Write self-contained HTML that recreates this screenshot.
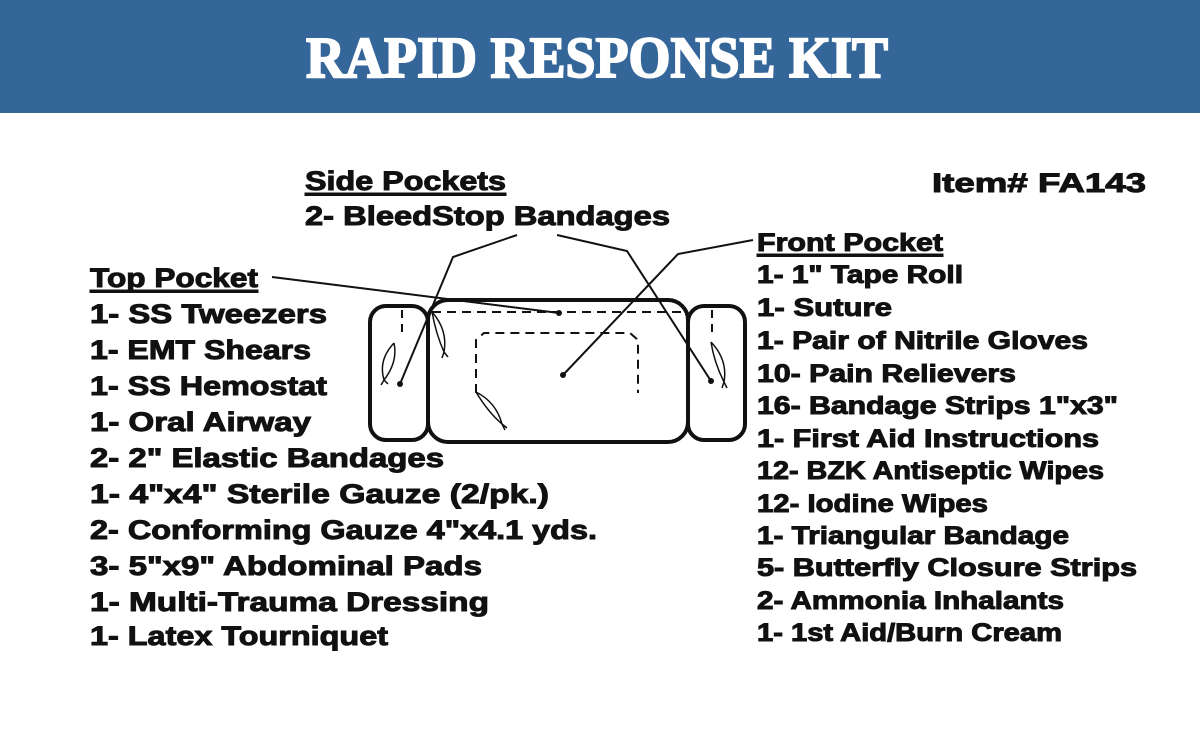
<!DOCTYPE html>
<html><head><meta charset="utf-8"><style>
html,body{margin:0;padding:0;background:#fff;}
svg{display:block}
.t{font-family:"Liberation Sans",sans-serif;font-weight:bold;fill:#111;stroke:#111;stroke-width:1;}
</style></head><body>
<svg width="1200" height="751" viewBox="0 0 1200 751" xmlns="http://www.w3.org/2000/svg">
<rect x="0" y="0" width="1200" height="113" fill="#346699"/>
<text x="306" y="77" font-family="Liberation Serif,serif" font-weight="bold" font-size="58" fill="#fff" stroke="#fff" stroke-width="2" textLength="582" lengthAdjust="spacingAndGlyphs">RAPID RESPONSE KIT</text>

<g class="t" font-size="27">
<text x="305" y="190" textLength="201" lengthAdjust="spacingAndGlyphs">Side Pockets</text>
<rect x="305" y="193" width="201" height="2.5" fill="#111"/>
<text x="305" y="225" textLength="365" lengthAdjust="spacingAndGlyphs">2- BleedStop Bandages</text>
<text x="932" y="192" textLength="214" lengthAdjust="spacingAndGlyphs">Item# FA143</text>

<text x="90" y="287" textLength="168" lengthAdjust="spacingAndGlyphs">Top Pocket</text>
<rect x="90" y="290" width="168" height="2.5" fill="#111"/>
<text x="90" y="323" textLength="237" lengthAdjust="spacingAndGlyphs">1- SS Tweezers</text>
<text x="90" y="359" textLength="221" lengthAdjust="spacingAndGlyphs">1- EMT Shears</text>
<text x="90" y="395" textLength="237" lengthAdjust="spacingAndGlyphs">1- SS Hemostat</text>
<text x="90" y="431" textLength="221" lengthAdjust="spacingAndGlyphs">1- Oral Airway</text>
<text x="90" y="467" textLength="354" lengthAdjust="spacingAndGlyphs">2- 2" Elastic Bandages</text>
<text x="90" y="503" textLength="459" lengthAdjust="spacingAndGlyphs">1- 4"x4" Sterile Gauze (2/pk.)</text>
<text x="90" y="539" textLength="507" lengthAdjust="spacingAndGlyphs">2- Conforming Gauze 4"x4.1 yds.</text>
<text x="90" y="575" textLength="392" lengthAdjust="spacingAndGlyphs">3- 5"x9" Abdominal Pads</text>
<text x="90" y="611" textLength="399" lengthAdjust="spacingAndGlyphs">1- Multi-Trauma Dressing</text>
<text x="90" y="645" textLength="298" lengthAdjust="spacingAndGlyphs">1- Latex Tourniquet</text>
</g>

<g class="t" font-size="25">
<text x="757" y="251" textLength="186" lengthAdjust="spacingAndGlyphs">Front Pocket</text>
<rect x="757" y="254" width="186" height="2.5" fill="#111"/>
<text x="757" y="283" textLength="206" lengthAdjust="spacingAndGlyphs">1- 1" Tape Roll</text>
<text x="757" y="316" textLength="135" lengthAdjust="spacingAndGlyphs">1- Suture</text>
<text x="757" y="349" textLength="331" lengthAdjust="spacingAndGlyphs">1- Pair of Nitrile Gloves</text>
<text x="757" y="382" textLength="259" lengthAdjust="spacingAndGlyphs">10- Pain Relievers</text>
<text x="757" y="414" textLength="361" lengthAdjust="spacingAndGlyphs">16- Bandage Strips 1"x3"</text>
<text x="757" y="447" textLength="342" lengthAdjust="spacingAndGlyphs">1- First Aid Instructions</text>
<text x="757" y="479" textLength="347" lengthAdjust="spacingAndGlyphs">12- BZK Antiseptic Wipes</text>
<text x="757" y="512" textLength="231" lengthAdjust="spacingAndGlyphs">12- Iodine Wipes</text>
<text x="757" y="544" textLength="312" lengthAdjust="spacingAndGlyphs">1- Triangular Bandage</text>
<text x="757" y="576" textLength="380" lengthAdjust="spacingAndGlyphs">5- Butterfly Closure Strips</text>
<text x="757" y="609" textLength="307" lengthAdjust="spacingAndGlyphs">2- Ammonia Inhalants</text>
<text x="757" y="641" textLength="305" lengthAdjust="spacingAndGlyphs">1- 1st Aid/Burn Cream</text>
</g>

<g fill="none" stroke="#111">
<rect x="370" y="306" width="58" height="134" rx="16" stroke-width="4"/>
<rect x="688" y="306" width="57" height="134" rx="16" stroke-width="4"/>
<rect x="428" y="300" width="260" height="142" rx="20" stroke-width="4"/>
<path d="M432 312 H682" stroke-width="2" stroke-dasharray="9,6"/>
<path d="M476 393 V340 L484 333 H630 L638 340 V393" stroke-width="2" stroke-dasharray="9,6"/>
<path d="M402 310 V338" stroke-width="2" stroke-dasharray="8,6"/>
<path d="M712 310 V338" stroke-width="2" stroke-dasharray="8,6"/>
<path d="M394 343 Q378 360 384 380 Q398 362 394 343 M384 380 L381 385 M384 380 L388 384" stroke-width="1.5"/>
<path d="M432 312 Q436 334 444 352 Q448 330 432 312 M444 352 L442 358 M444 352 L448 357" stroke-width="1.5"/>
<path d="M476 392 Q488 412 502 424 Q496 402 476 392 M502 424 L505 430 M502 424 L507 428" stroke-width="1.5"/>
<path d="M711 342 Q714 362 724 382 Q728 360 711 342 M724 382 L727 388 M724 382 L722 388" stroke-width="1.5"/>
<path d="M272 277 L559 313" stroke-width="2"/>
<path d="M517 235 L453 257 L400 384" stroke-width="2"/>
<path d="M557 235 L627 251 L711 381" stroke-width="2"/>
<path d="M753 240 L678 254 L563 375" stroke-width="2"/>
</g>
<g fill="#111">
<circle cx="559" cy="313" r="3"/>
<circle cx="400" cy="384" r="3"/>
<circle cx="711" cy="381" r="3"/>
<circle cx="563" cy="375" r="3"/>
</g>
</svg>
</body></html>
